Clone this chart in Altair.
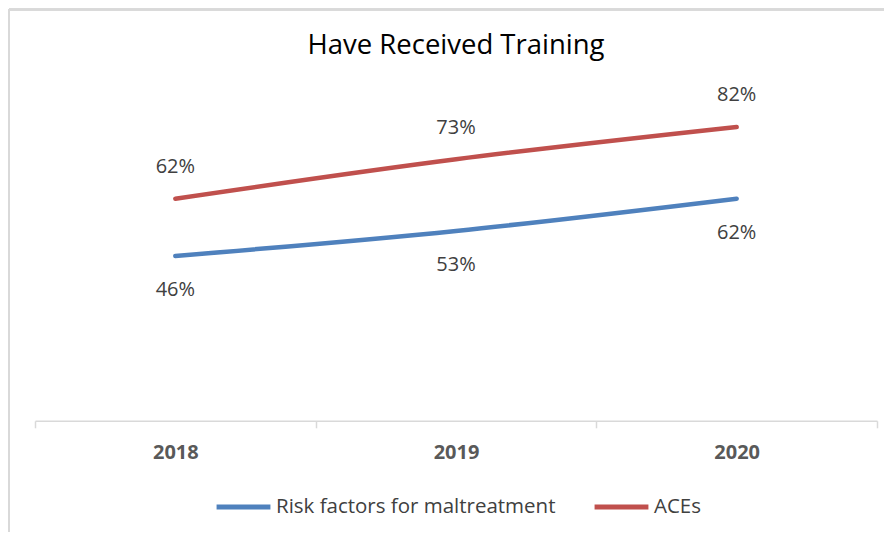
import altair as alt
import pandas as pd

years = ["2018", "2019", "2020"]
risk_factors = [0.46, 0.53, 0.62]
aces = [0.62, 0.73, 0.82]
series_names = ["Risk factors for maltreatment", "ACEs"]
series_colors = ["#4f81bd", "#c0504d"]

rows = []
for name, vals in zip(series_names, [risk_factors, aces]):
    for y, v in zip(years, vals):
        rows.append({"year": y, "value": v, "series": name})
df = pd.DataFrame(rows)

FONT = "Open Sans"

x_enc = alt.X(
    "year:O",
    scale=alt.Scale(type="band", paddingInner=0, paddingOuter=0),
    axis=alt.Axis(
        title=None,
        labelAngle=0,
        labelFont=FONT,
        labelFontSize=20,
        labelFontWeight="bold",
        labelColor="#595959",
        labelPadding=15,
        domainColor="#d9d9d9",
        domainWidth=1.5,
        tickColor="#d9d9d9",
        tickWidth=1.5,
        tickSize=7,
        tickBand="extent",
        grid=False,
    ),
)
y_enc = alt.Y("value:Q", scale=alt.Scale(domain=[0, 1], nice=False, zero=True), axis=None)

color_enc = alt.Color(
    "series:N",
    scale=alt.Scale(domain=series_names, range=series_colors),
    legend=alt.Legend(
        title=None,
        orient="none",
        direction="horizontal",
        legendX=179,
        legendY=415,
        padding=0,
        symbolType="stroke",
        symbolSize=2900,
        symbolStrokeWidth=5,
        labelFont=FONT,
        labelFontSize=20.5,
        labelColor="#404040",
        labelOffset=3,
        labelLimit=0,
        columnPadding=28,
    ),
)

base = alt.Chart(df)

lines = base.mark_line(strokeWidth=4.5, strokeCap="round", interpolate="monotone").encode(
    x=x_enc, y=y_enc, color=color_enc
)

labels_top = base.transform_filter(alt.datum.series == "ACEs").mark_text(
    font=FONT, fontSize=20, color="#404040", baseline="middle", align="center", dy=-31.5
).encode(x=x_enc, y=y_enc, text=alt.Text("value:Q", format=".0%"))

labels_bottom = base.transform_filter(alt.datum.series == "Risk factors for maltreatment").mark_text(
    font=FONT, fontSize=20, color="#404040", baseline="middle", align="center", dy=34
).encode(x=x_enc, y=y_enc, text=alt.Text("value:Q", format=".0%"))

# light chart-frame edges (top and left), as in the reference
frame_left = alt.Chart(df).mark_rule(color="#d9d9d9", strokeWidth=2).encode(
    x=alt.value(-26), y=alt.value(-53), y2=alt.value(470)
)
frame_top = alt.Chart(df).mark_rule(color="#d9d9d9", strokeWidth=2).encode(
    x=alt.value(-26), x2=alt.value(869), y=alt.value(-53)
)

chart = alt.layer(frame_left, frame_top, lines, labels_top, labels_bottom).properties(
    width=842,
    height=358.3,
    autosize=alt.AutoSizeParams(type="none"),
    padding={"left": 27, "top": 54.5, "right": 7, "bottom": 111},
    title=alt.TitleParams(
        "Have Received Training",
        font=FONT,
        fontSize=27.5,
        fontWeight="normal",
        color="#000000",
        anchor="middle",
        frame="group",
        baseline="alphabetic",
        offset=7,
        dy=80,
    ),
).configure_view(stroke=None)

chart.save("out.html", embed_options={"renderer": "svg", "actions": False})
